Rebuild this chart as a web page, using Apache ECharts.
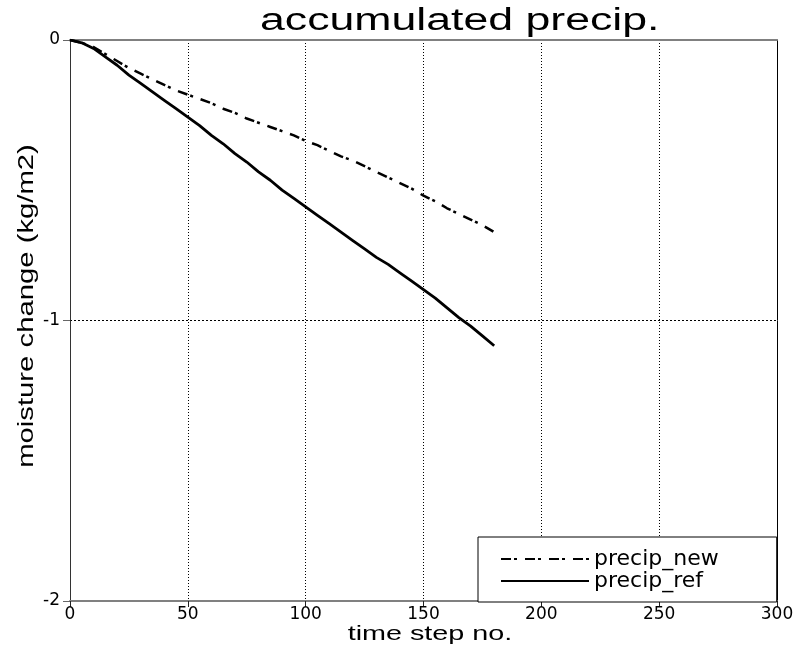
<!DOCTYPE html>
<html><head><meta charset="utf-8">
<script src="https://cdn.jsdelivr.net/npm/echarts@6/dist/echarts.min.js"></script>
<style>html,body{margin:0;padding:0;background:#fff}#c{width:799px;height:648px}</style>
</head><body><div id="c"></div>
<script>
var steps = [0,5,10,15,20,25,30,35,40,45,50,55,60,65,70,75,80,85,90,95,100,105,110,115,120,125,130,135,140,145,150,155,160,165,170,175,180];
var precipRef = [0,-0.01,-0.03,-0.06,-0.09,-0.125,-0.155,-0.185,-0.215,-0.245,-0.275,-0.305,-0.34,-0.37,-0.405,-0.435,-0.47,-0.5,-0.535,-0.565,-0.595,-0.625,-0.655,-0.685,-0.715,-0.745,-0.775,-0.8,-0.83,-0.86,-0.89,-0.92,-0.955,-0.99,-1.02,-1.055,-1.09];
var precipNew = [0,-0.01,-0.025,-0.05,-0.075,-0.1,-0.12,-0.14,-0.16,-0.18,-0.195,-0.21,-0.225,-0.245,-0.26,-0.28,-0.295,-0.31,-0.325,-0.34,-0.36,-0.375,-0.395,-0.415,-0.43,-0.45,-0.47,-0.49,-0.51,-0.53,-0.555,-0.575,-0.6,-0.62,-0.64,-0.66,-0.685];
var seriesNames = ['precip_new', 'precip_ref'];
var titleText = 'accumulated precip.';
var xName = 'time step no.';
var yName = 'moisture change (kg/m2)';

function pairs(xs, ys){ return xs.map(function(x,i){return [x, ys[i]];}); }
var FONT = 'Liberation Sans, Arial, sans-serif';
var TICKFONT = 'DejaVu Sans, sans-serif';
var chart = echarts.init(document.getElementById('c'), null, {renderer:'canvas'});
chart.setOption({
  animation:false,
  backgroundColor:'#fff',
  color:['#000','#000'],
  grid:{left:70, right:22, top:40, bottom:47, show:false},
  xAxis:[{type:'value', min:0, max:300, interval:50, position:'bottom',
    axisLine:{show:true, onZero:false, lineStyle:{color:'#808080', width:2}},
    axisTick:{show:true, length:6, lineStyle:{color:'#222'}},
    axisLabel:{color:'#000', fontFamily:TICKFONT, fontSize:17, margin:5},
    splitLine:{show:true, lineStyle:{color:'#000', type:[1,2], width:1}}},
   {type:'value', min:0, max:300, interval:50, position:'top',
    axisLine:{show:true, onZero:false, lineStyle:{color:'#808080', width:2}},
    axisTick:{show:false}, axisLabel:{show:false}, splitLine:{show:false}}],
  yAxis:[{type:'value', min:-2, max:0, interval:1, position:'left',
    axisLine:{show:true, onZero:false, lineStyle:{color:'#333', width:1}},
    axisTick:{show:true, length:7, lineStyle:{color:'#666'}},
    axisLabel:{color:'#000', fontFamily:TICKFONT, fontSize:17, margin:10},
    splitLine:{show:true, lineStyle:{color:'#000', type:[2,2], width:1}}},
   {type:'value', min:-2, max:0, interval:1, position:'right',
    axisLine:{show:true, onZero:false, lineStyle:{color:'#000', width:1}},
    axisTick:{show:false}, axisLabel:{show:false}, splitLine:{show:false}}],
  legend:{orient:'vertical', left:478, top:537, itemWidth:88, itemHeight:14, itemGap:0,
    borderColor:'#000', borderWidth:1, padding:[11,58,10,22], backgroundColor:'#fff',
    itemStyle:{color:'transparent', borderColor:'transparent', borderWidth:0},
    textStyle:{fontFamily:TICKFONT, fontSize:22, lineHeight:21, color:'#000'},
    data:seriesNames},
  graphic:[
    {type:'text', x:260, y:6, scaleX:1.44, style:{text:titleText, font:'31px '+FONT, fill:'#000', verticalAlign:'top'}},
    {type:'text', x:430, y:624, scaleX:1.37, style:{text:xName, font:'21px '+FONT, fill:'#000', align:'center', verticalAlign:'top'}},
    {type:'text', x:16, y:306, rotation:Math.PI/2, scaleX:1.33, style:{text:yName, font:'22px '+FONT, fill:'#000', align:'center', verticalAlign:'top'}}
  ],
  series:[
    {name:seriesNames[0], type:'line', data:pairs(steps, precipNew), showSymbol:false, symbol:'none',
      itemStyle:{color:'#000'}, lineStyle:{color:'#000', width:2.5, type:[10,3,3,8]}},
    {name:seriesNames[1], type:'line', data:pairs(steps, precipRef), showSymbol:false, symbol:'none',
      itemStyle:{color:'#000'}, lineStyle:{color:'#000', width:2.8, type:'solid'}}
  ]
});
</script></body></html>
